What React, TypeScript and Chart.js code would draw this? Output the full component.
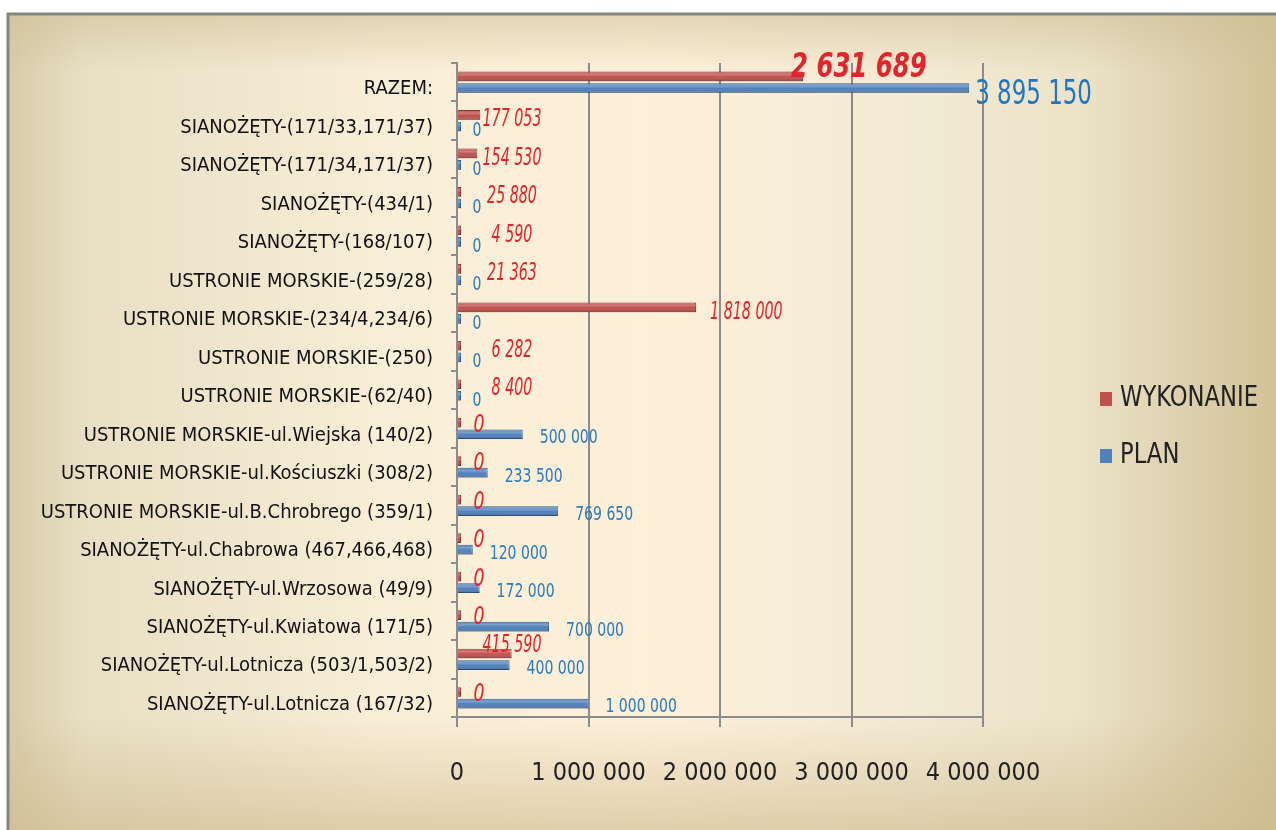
import React, { useEffect, useRef } from "react";
import { Chart, registerables } from "chart.js";

Chart.register(...registerables);

const categories = [
  "RAZEM:",
  "SIANOŻĘTY-(171/33,171/37)",
  "SIANOŻĘTY-(171/34,171/37)",
  "SIANOŻĘTY-(434/1)",
  "SIANOŻĘTY-(168/107)",
  "USTRONIE MORSKIE-(259/28)",
  "USTRONIE MORSKIE-(234/4,234/6)",
  "USTRONIE MORSKIE-(250)",
  "USTRONIE MORSKIE-(62/40)",
  "USTRONIE MORSKIE-ul.Wiejska (140/2)",
  "USTRONIE MORSKIE-ul.Kościuszki (308/2)",
  "USTRONIE MORSKIE-ul.B.Chrobrego (359/1)",
  "SIANOŻĘTY-ul.Chabrowa (467,466,468)",
  "SIANOŻĘTY-ul.Wrzosowa (49/9)",
  "SIANOŻĘTY-ul.Kwiatowa (171/5)",
  "SIANOŻĘTY-ul.Lotnicza (503/1,503/2)",
  "SIANOŻĘTY-ul.Lotnicza (167/32)",
];

const wykonanie = [
  2631689, 177053, 154530, 25880, 4590, 21363, 1818000, 6282, 8400,
  0, 0, 0, 0, 0, 0, 415590, 0,
];

const plan = [
  3895150, 0, 0, 0, 0, 0, 0, 0, 0,
  500000, 233500, 769650, 120000, 172000, 700000, 400000, 1000000,
];

const seriesNames = ["WYKONANIE", "PLAN"];
const xTickValues = [0, 1000000, 2000000, 3000000, 4000000];

const FONT = '"DejaVu Sans Condensed", "Liberation Sans Narrow", "Liberation Sans", sans-serif';
const RED = "#c0504d";
const RED_DARK = "#8c3330";
const BLUE = "#4f81bd";
const BLUE_DARK = "#2d5a90";

const fmt = (n: number) => String(Math.round(n)).replace(/\B(?=(\d{3})+(?!\d))/g, " ");

// draw text horizontally condensed
function drawNarrow(ctx: any, txt: string, x: number, y: number, sx: number) {
  ctx.save();
  ctx.translate(x, y);
  ctx.scale(sx, 1);
  ctx.textAlign = "left";
  ctx.textBaseline = "middle";
  ctx.fillText(txt, 0, 0);
  ctx.restore();
}

const backgroundPlugin = {
  id: "bgFrame",
  beforeDraw(chart: any) {
    const { ctx, width, height } = chart;
    ctx.save();
    ctx.fillStyle = "#ffffff";
    ctx.fillRect(0, 0, width, height);
    const fx = 8, fy = 14;
    const fw = width - fx, fh = height - fy;
    const hg = ctx.createLinearGradient(fx, 0, width, 0);
    hg.addColorStop(0, "#d8cba7");
    hg.addColorStop(0.06, "#e8dfc4");
    hg.addColorStop(0.3, "#f9eed7");
    hg.addColorStop(0.5, "#fdf0d9");
    hg.addColorStop(0.72, "#f3ead3");
    hg.addColorStop(0.85, "#ebe2c7");
    hg.addColorStop(0.93, "#ddd0ae");
    hg.addColorStop(1, "#d2c296");
    ctx.fillStyle = hg;
    ctx.fillRect(fx, fy, fw, fh);
    const vg = ctx.createLinearGradient(0, fy, 0, height);
    vg.addColorStop(0, "rgba(205,190,150,0.55)");
    vg.addColorStop(0.07, "rgba(205,190,150,0.0)");
    vg.addColorStop(0.86, "rgba(205,185,140,0.0)");
    vg.addColorStop(1, "rgba(205,185,140,0.6)");
    ctx.fillStyle = vg;
    ctx.fillRect(fx, fy, fw, fh);
    ctx.strokeStyle = "#85857f";
    ctx.lineWidth = 3;
    ctx.beginPath();
    ctx.moveTo(fx, height);
    ctx.lineTo(fx, fy);
    ctx.lineTo(width, fy);
    ctx.stroke();
    ctx.restore();
  },
};

const barShadePlugin = {
  id: "barShade",
  afterDatasetsDraw(chart: any) {
    const { ctx } = chart;
    ctx.save();
    chart.data.datasets.forEach((_: any, di: number) => {
      const meta = chart.getDatasetMeta(di);
      meta.data.forEach((bar: any) => {
        const top = bar.y - bar.height / 2;
        const left = Math.min(bar.x, bar.base);
        const w = Math.abs(bar.x - bar.base);
        const g = ctx.createLinearGradient(0, top, 0, top + bar.height);
        g.addColorStop(0, "rgba(255,255,255,0.0)");
        g.addColorStop(0.3, "rgba(255,255,255,0.25)");
        g.addColorStop(0.55, "rgba(255,255,255,0.0)");
        g.addColorStop(1, "rgba(0,0,0,0.25)");
        ctx.fillStyle = g;
        ctx.fillRect(left, top, w, bar.height);
      });
    });
    ctx.restore();
  },
};

const labelPlugin = {
  id: "valueLabels",
  afterDatasetsDraw(chart: any) {
    const { ctx } = chart;
    const xs = chart.scales.x;
    const x0 = xs.getPixelForValue(0);
    ctx.save();
    // WYKONANIE (red)
    const redMeta = chart.getDatasetMeta(0);
    redMeta.data.forEach((bar: any, i: number) => {
      const v = chart.data.datasets[0].data[i];
      const txt = fmt(v);
      const end = xs.getPixelForValue(v);
      ctx.fillStyle = "#e3242b";
      if (i === 0) {
        ctx.font = `italic bold 33px ${FONT}`;
        drawNarrow(ctx, txt, end - 12, bar.y - 8, 0.82);
        return;
      }
      if (v === 0) {
        ctx.font = `italic 24px ${FONT}`;
        const w0 = ctx.measureText(txt).width * 0.8;
        drawNarrow(ctx, txt, x0 + 22 - w0 / 2, bar.y + 3, 0.8);
        return;
      }
      const sx = 0.66;
      ctx.font = `italic 24px ${FONT}`;
      const w = ctx.measureText(txt).width * sx;
      let cx: number;
      let y = bar.y + 5;
      if (end < x0 + 80) {
        cx = x0 + 55;
      } else {
        cx = end + 14 + w / 2;
      }
      if (cx - w / 2 < end) y = bar.y - 8;
      drawNarrow(ctx, txt, cx - w / 2, y, sx);
    });
    // PLAN (blue)
    const blueMeta = chart.getDatasetMeta(1);
    blueMeta.data.forEach((bar: any, i: number) => {
      const v = chart.data.datasets[1].data[i];
      const txt = fmt(v);
      const end = xs.getPixelForValue(v);
      ctx.fillStyle = "#2a7cc0";
      if (i === 0) {
        ctx.font = `34px ${FONT}`;
        ctx.fillStyle = "#1f77c4";
        drawNarrow(ctx, txt, end + 6, bar.y + 7, 0.75);
        return;
      }
      const sx = 0.82;
      ctx.font = `19px ${FONT}`;
      const w = ctx.measureText(txt).width * sx;
      if (v === 0) {
        drawNarrow(ctx, txt, x0 + 20 - w / 2, bar.y + 5, sx);
      } else {
        drawNarrow(ctx, txt, end + 17, bar.y + 4, sx);
      }
    });
    ctx.restore();
  },
};

const legendPlugin = {
  id: "sideLegend",
  afterDraw(chart: any) {
    const { ctx } = chart;
    const lx = chart.chartArea.right + 117;
    const items = [
      { name: seriesNames[0], color: RED, y: 399 },
      { name: seriesNames[1], color: BLUE, y: 456 },
    ];
    ctx.save();
    ctx.font = `28px ${FONT}`;
    items.forEach((it) => {
      ctx.fillStyle = it.color;
      ctx.fillRect(lx, it.y - 7, 12, 14);
      ctx.fillStyle = "#222222";
      drawNarrow(ctx, it.name, lx + 20, it.y, 0.9);
    });
    ctx.restore();
  },
};

function App() {
  const canvasRef = useRef<HTMLCanvasElement | null>(null);

  useEffect(() => {
    if (!canvasRef.current) return;
    const chart = new Chart(canvasRef.current, {
      type: "bar",
      data: {
        labels: categories,
        datasets: [
          {
            label: seriesNames[0],
            data: wykonanie,
            backgroundColor: RED,
            borderColor: RED_DARK,
            borderWidth: 1,
            minBarLength: 4,
            categoryPercentage: 0.6,
            barPercentage: 0.84,
          },
          {
            label: seriesNames[1],
            data: plan,
            backgroundColor: BLUE,
            borderColor: BLUE_DARK,
            borderWidth: 1,
            minBarLength: 4,
            categoryPercentage: 0.6,
            barPercentage: 0.84,
          },
        ],
      },
      options: {
        indexAxis: "y",
        responsive: false,
        animation: false,
        events: [],
        layout: { padding: { left: 0, right: 293, top: 63, bottom: 0 } },
        plugins: {
          legend: { display: false },
          tooltip: { enabled: false },
        },
        scales: {
          x: {
            type: "linear",
            min: 0,
            max: 4000000,
            afterBuildTicks: (s: any) => {
              s.ticks = xTickValues.map((v) => ({ value: v }));
            },
            afterFit: (s: any) => {
              s.height = 113;
            },
            grid: {
              color: "#8c8c8c",
              lineWidth: 2,
              drawTicks: true,
              tickLength: 10,
              tickColor: "#8c8c8c",
              tickWidth: 2,
            },
            border: { color: "#8c8c8c", width: 2 },
            ticks: {
              font: { family: FONT, size: 25 },
              color: "#222222",
              padding: 31,
              maxRotation: 0,
              callback: (v: any) => fmt(Number(v)),
            },
          },
          y: {
            afterFit: (s: any) => {
              s.width = 457;
            },
            grid: {
              display: true,
              drawOnChartArea: false,
              drawTicks: true,
              tickLength: 6,
              color: "#8c8c8c",
              lineWidth: 2,
              offset: true,
            },
            border: { color: "#8c8c8c", width: 2 },
            ticks: {
              font: { family: FONT, size: 20 },
              color: "#111111",
              padding: 18,
              labelOffset: 7,
              autoSkip: false,
            },
          },
        },
      },
      plugins: [backgroundPlugin, barShadePlugin, labelPlugin, legendPlugin],
    } as any);
    return () => chart.destroy();
  }, []);

  return (
    <div style={{ position: "absolute", left: 0, top: 0, width: 1276, height: 830 }}>
      <canvas ref={canvasRef} width={1276} height={830} style={{ display: "block" }} />
    </div>
  );
}

export default App;
